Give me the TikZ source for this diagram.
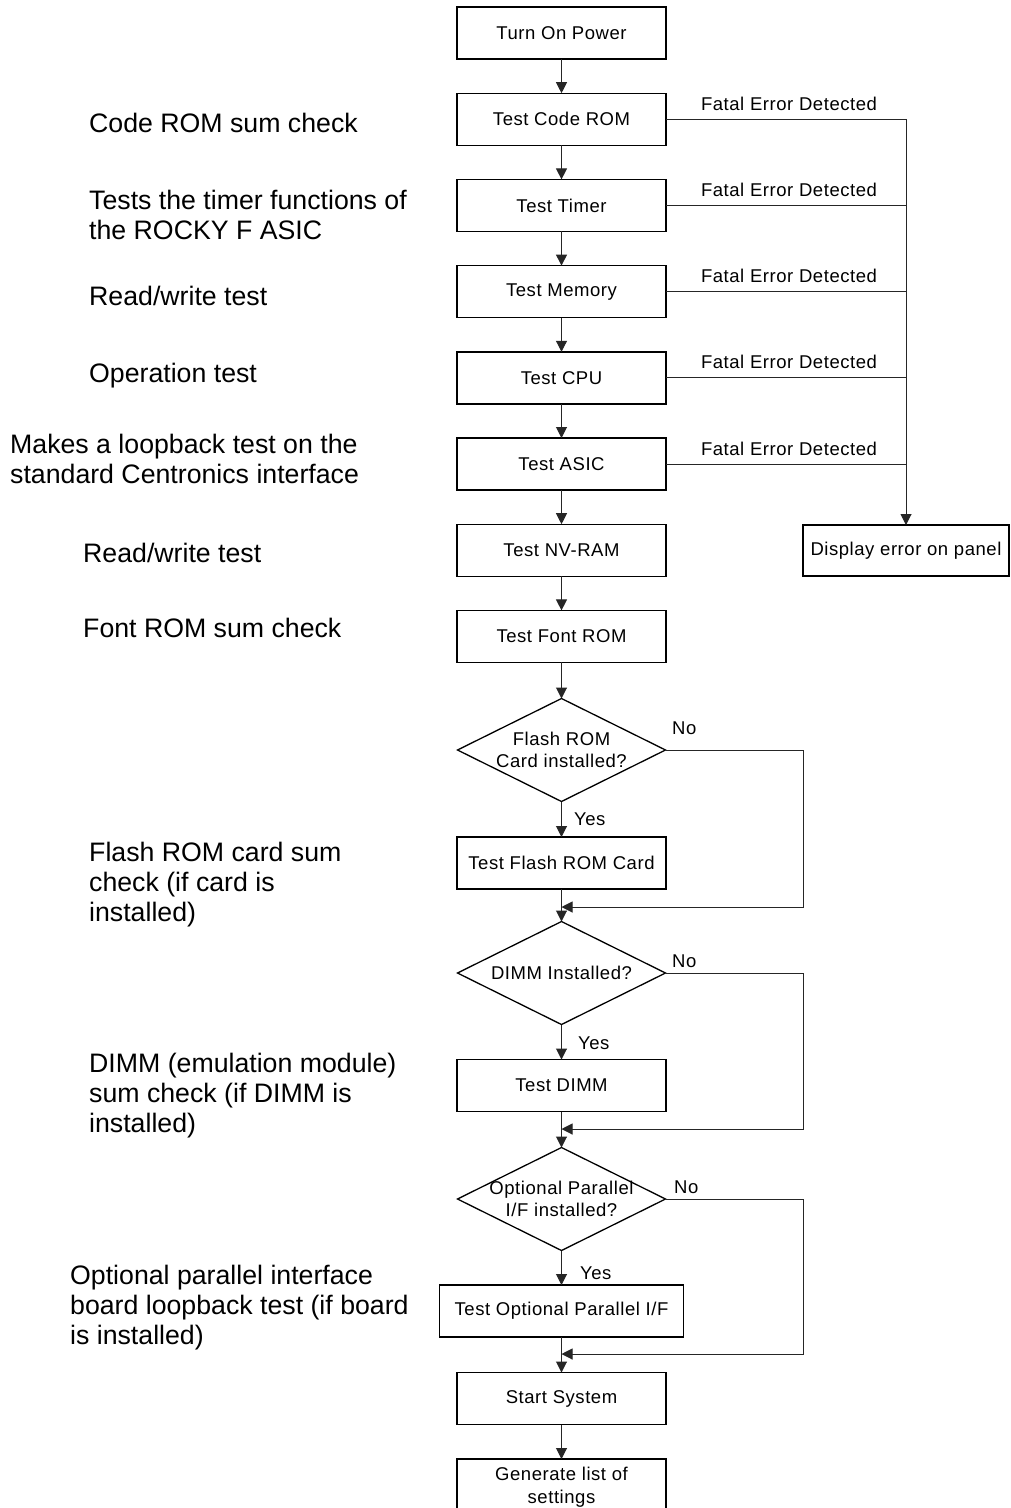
\documentclass[tikz,border=0pt]{standalone}
\usepackage{fontspec}
\setmainfont{Liberation Sans}
\newfontfamily\chartfont[LetterSpace=3]{Liberation Sans}
\usetikzlibrary{shapes.geometric,arrows.meta,calc}

\begin{document}
\begin{tikzpicture}[x=1pt,y=-1pt,
  proc/.style={draw, line width=1.4pt, minimum width=209pt, minimum height=52pt,
    inner sep=0pt, outer sep=0pt, align=center,
    font=\chartfont\fontsize{18.5}{24}\selectfont},
  decision/.style={diamond, draw, line width=1.3pt, minimum width=208pt,
    minimum height=103pt, inner sep=0pt, outer sep=0pt},
  dtext/.style={align=center, inner sep=0pt,
    font=\chartfont\fontsize{18.5}{22}\selectfont},
  flow/.style={line width=1pt, draw=black!85, -{Triangle[width=11pt,length=11pt]}},
  plain/.style={line width=1pt, draw=black!85},
  lbl/.style={font=\chartfont\fontsize{18.5}{21}\selectfont, inner sep=0pt, anchor=base},
  note/.style={font=\fontsize{26.7}{30}\selectfont, align=left, inner sep=0pt,
    anchor=base west},
]
\useasboundingbox (0,0) rectangle (1010,1508);
\clip (0,0) rectangle (1010,1508);
\fill[white] (0,0) rectangle (1010,1508);

% main column of steps
\node[proc] (power)  at (561.5,33)    {Turn On Power};
\node[proc] (code)   at (561.5,119.2) {Test Code ROM};
\node[proc] (timer)  at (561.5,205.4) {Test Timer};
\node[proc] (mem)    at (561.5,291.6) {Test Memory};
\node[proc] (cpu)    at (561.5,377.8) {Test CPU};
\node[proc] (asic)   at (561.5,464)   {Test ASIC};
\node[proc] (nvram)  at (561.5,550.2) {Test NV-RAM};
\node[proc] (font)   at (561.5,636.4) {Test Font ROM};

\node[decision] (d1) at (561.5,750) {};
\node[dtext] at (d1) {Flash ROM\\Card installed?};
\node[proc] (flash)  at (561.5,863)   {Test Flash ROM Card};

\node[decision] (d2) at (561.5,973) {};
\node[dtext] at (d2) {DIMM Installed?};
\node[proc] (dimm)   at (561.5,1085.5) {Test DIMM};

\node[decision] (d3) at (561.5,1199) {};
\node[dtext] at (d3) {Optional Parallel\\I/F installed?};
\node[proc, minimum width=244pt] (par) at (561.5,1311) {Test Optional Parallel I/F};

\node[proc] (start)  at (561.5,1398.5) {Start System};
\node[proc, minimum height=56pt, font=\chartfont\fontsize{18.5}{23}\selectfont]
  (gen) at (561.5,1487) {Generate list of\\settings};

% error branch
\node[proc, minimum width=206pt, minimum height=51pt] (disp) at (906,550.5) {Display error on panel};

% downward flow
\draw[flow] (power.south) -- (code.north);
\draw[flow] (code.south)  -- (timer.north);
\draw[flow] (timer.south) -- (mem.north);
\draw[flow] (mem.south)   -- (cpu.north);
\draw[flow] (cpu.south)   -- (asic.north);
\draw[flow] (asic.south)  -- (nvram.north);
\draw[flow] (nvram.south) -- (font.north);
\draw[flow] (font.south)  -- (d1.north);
\draw[flow] (d1.south)    -- (flash.north);
\draw[flow] (flash.south) -- (d2.north);
\draw[flow] (d2.south)    -- (dimm.north);
\draw[flow] (dimm.south)  -- (d3.north);
\draw[flow] (d3.south)    -- (par.north);
\draw[flow] (par.south)   -- (start.north);
\draw[flow] (start.south) -- (gen.north);

% fatal error lines to the collecting bus
\foreach \n in {code,timer,mem,cpu,asic}{
  \draw[plain] (\n.east) -- (\n.east -| disp.north);
  \node[lbl] at ($(\n.east)+(123,-9)$) {Fatal Error Detected};
}
\draw[flow] (code.east -| disp.north) -- (disp.north);

% bypass loops for the optional items
\coordinate (m1) at (561.5,907);  \coordinate (r1) at (803,907);
\coordinate (m2) at (561.5,1129); \coordinate (r2) at (803,1129);
\coordinate (m3) at (561.5,1354); \coordinate (r3) at (803,1354);
\draw[flow] (d1.east) -| (r1) -- (m1);
\draw[flow] (d2.east) -| (r2) -- (m2);
\draw[flow] (d3.east) -| (r3) -- (m3);

\node[lbl, anchor=base west] at (672,734)  {No};
\node[lbl, anchor=base west] at (672,967)  {No};
\node[lbl, anchor=base west] at (674,1193) {No};
\node[lbl, anchor=base west] at (574,825)  {Yes};
\node[lbl, anchor=base west] at (578,1049) {Yes};
\node[lbl, anchor=base west] at (580,1279) {Yes};

% descriptions on the left (anchored at the baseline of the last line)
\node[note] (n1)  at (89,132)  {Code ROM sum check};
\node[note] (n2)  at (89,239)  {Tests the timer functions of\\the ROCKY F ASIC};
\node[note] (n3)  at (89,305)  {Read/write test};
\node[note] (n4)  at (89,382)  {Operation test};
\node[note] (n5)  at (10,483)  {Makes a loopback test on the\\standard Centronics interface};
\node[note] (n6)  at (83,562)  {Read/write test};
\node[note] (n7)  at (83,637)  {Font ROM sum check};
\node[note] (n8)  at (89,921)  {Flash ROM card sum\\check (if card is\\installed)};
\node[note] (n9)  at (89,1132) {DIMM (emulation module)\\sum check (if DIMM is\\installed)};
\node[note] (n10) at (70,1344) {Optional parallel interface\\board loopback test (if board\\is installed)};
\end{tikzpicture}
\end{document}
